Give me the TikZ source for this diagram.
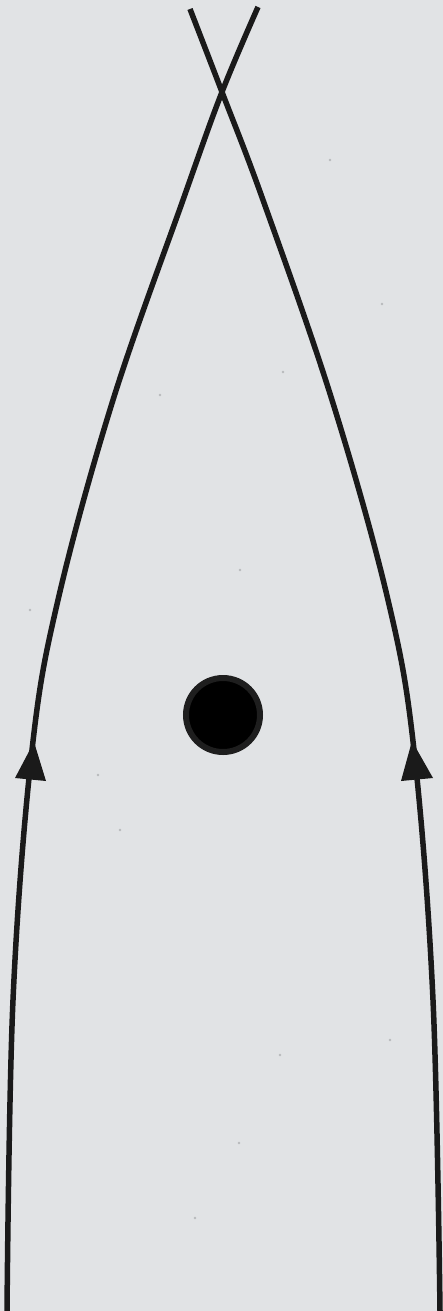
\documentclass[tikz,border=0pt]{standalone}
\definecolor{paper}{HTML}{E1E3E5}
\definecolor{ink}{HTML}{1A1A1A}
\definecolor{ring}{HTML}{1E1E1E}
\definecolor{speck}{HTML}{B8BABC}
\tikzset{
  strand/.style={draw=ink, line width=5.5pt, line cap=butt, line join=round},
  arrowhead/.style={fill=ink, draw=none},
  dotmark/.style={circle, fill=black, draw=ring, line width=6pt, minimum size=74pt, inner sep=0pt},
  speckle/.style={fill=speck, draw=none}
}
\begin{document}
\begin{tikzpicture}[x=1pt, y=-1pt]
  \fill[paper] (0,0) rectangle (443,1311);
  \useasboundingbox (0,0) rectangle (443,1311);
  % a few paper speckles
  \foreach \px/\py in {30/610, 240/570, 283/372, 195/1218, 280/1055, 382/304, 120/830, 239/1143, 160/395, 98/775, 390/1040, 330/160} {
    \fill[speckle] (\px,\py) circle (1.3pt);
  }
  % named points
  \coordinate (cross) at (222,92);
  \coordinate (lbot) at (7,1311);
  \coordinate (rbot) at (440,1311);
  \coordinate (ltop) at (190,9);
  \coordinate (rtop) at (258,7);
  % left strand
  \draw[strand] plot[smooth, tension=0.6] coordinates
    {(7,1311) (13,1000) (32,750) (58,600) (113,400) (183,200) (222,92) (258,7)};
  % right strand
  \draw[strand] plot[smooth, tension=0.6] coordinates
    {(440,1311) (433,1000) (414,750) (388,600) (332,400) (263,200) (222,92) (190,9)};
  % arrowheads
  \fill[arrowhead] (34,742) -- (15,778) -- (46,781) -- cycle;
  \fill[arrowhead] (412,741) -- (401,781) -- (433,778) -- cycle;
  % central dot
  \node[dotmark] (dot) at (223,715) {};
\end{tikzpicture}
\end{document}
